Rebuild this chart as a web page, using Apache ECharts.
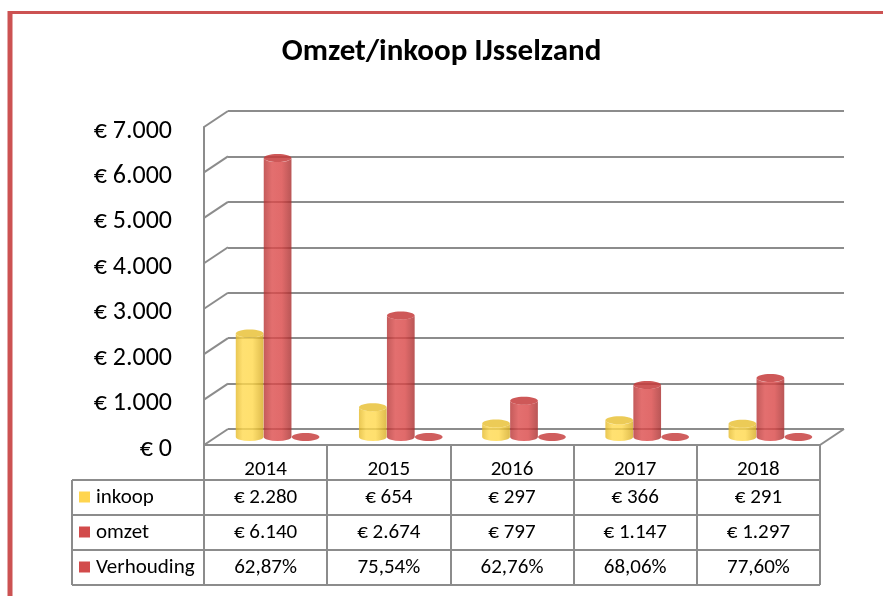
<!DOCTYPE html>
<html>
<head>
<meta charset="utf-8">
<script src="https://cdn.jsdelivr.net/npm/echarts@6/dist/echarts.min.js"></script>
<style>html,body{margin:0;padding:0;background:#fff}#c{width:883px;height:596px}</style>
</head>
<body>
<div id="c"></div>
<script>
// ---- data ----
var title = 'Omzet/inkoop IJsselzand';
var categories = ['2014', '2015', '2016', '2017', '2018'];
var inkoop = [2280, 654, 297, 366, 291];
var omzet = [6140, 2674, 797, 1147, 1297];
var verhouding = [62.87, 75.54, 62.76, 68.06, 77.60]; // percent
var seriesNames = ['inkoop', 'omzet', 'Verhouding'];
var yTicks = [0, 1000, 2000, 3000, 4000, 5000, 6000, 7000];

// ---- style / layout ----
var FONT = 'Carlito, Calibri, Lato, sans-serif';
var GRAY = '#8c8c8c';
var DX = 24, DY = 16; // depth offset (back = front + (DX, -DY))
var FRONT = {left: 204, right: 63, top: 127, bottom: 151};
var BACK = {left: 228, right: 39, top: 111, bottom: 167};
var LABEL_SHIFT = 4;
var ROW_H = 35;
var TABLE_LEFT = 72;
var TFONT = 21;
var YEL = '#ffd54f', RED = '#d24b4b';

function thousands(v) {
  var s = String(Math.round(v));
  return s.replace(/\B(?=(\d{3})+(?!\d))/g, '.');
}
function euro(v) { return '\u20ac ' + thousands(v); }
function pct(v) { return v.toFixed(2).replace('.', ',') + '%'; }

var styles = [
  {stops: [[0, '#e4b928'], [0.25, '#ffd94e'], [0.6, '#ffd84a'], [1, '#d6ab20']], top: '#e9c23a'},
  {stops: [[0, '#b53232'], [0.3, '#dc4b4b'], [0.65, '#d94545'], [1, '#a82c2c']], top: '#c53b3b'},
  {stops: [[0, '#b53232'], [0.3, '#dc4b4b'], [0.65, '#d94545'], [1, '#a82c2c']], top: '#c84242'}
];

function cylinder(k) {
  return function (params, api) {
    var idx = api.value(0), val = api.value(1);
    var top = api.coord([idx, val]);
    var base = api.coord([idx, 0]);
    var band = api.size([1, 0])[0];
    var w = band * 0.225, rx = w / 2, ry = 4;
    var cx = top[0] - DX / 2 + (k - 1) * band * 0.227;
    var ty = top[1] + DY / 2, by = base[1] + DY / 2;
    var L = cx - rx, R = cx + rx;
    var st = styles[k];
    var grad = new echarts.graphic.LinearGradient(0, 0, 1, 0,
      st.stops.map(function (s) { return {offset: s[0], color: s[1]}; }));
    var children = [];
    if (by - ty > 0.5) {
      children.push({
        type: 'path',
        shape: {pathData: 'M' + L + ' ' + ty + ' A' + rx + ' ' + ry + ' 0 0 0 ' + R + ' ' + ty +
          ' L' + R + ' ' + by + ' A' + rx + ' ' + ry + ' 0 0 1 ' + L + ' ' + by + ' Z'},
        style: {fill: grad, opacity: 0.8}
      });
    }
    children.push({
      type: 'ellipse',
      shape: {cx: cx, cy: ty, rx: rx, ry: ry},
      style: {fill: st.top, opacity: 0.85}
    });
    return {type: 'group', children: children};
  };
}

function mkData(arr) { return arr.map(function (v, i) { return [i, v]; }); }

var chart = echarts.init(document.getElementById('c'), null, {renderer: 'canvas'});

var rowsX = [
  {offset: 0, margin: 14, fmt: function (v, i) { return categories[i]; }},
  {offset: ROW_H, margin: 7, fmt: function (v, i) { return euro(inkoop[i]); }},
  {offset: ROW_H * 2, margin: 7, fmt: function (v, i) { return euro(omzet[i]); }},
  {offset: ROW_H * 3, margin: 7, fmt: function (v, i) { return pct(verhouding[i]); }}
];

var xAxes = rowsX.map(function (r, n) {
  return {
    type: 'category', gridIndex: 0, data: categories, position: 'bottom', offset: r.offset,
    axisLine: {show: n === 0, lineStyle: {color: GRAY, width: 2}},
    axisTick: {show: n === 0, interval: 0, length: ROW_H * 4, lineStyle: {color: GRAY, width: 2}},
    axisLabel: {margin: r.margin, interval: 0, fontSize: TFONT, color: '#000', fontFamily: FONT, formatter: r.fmt},
    splitLine: {show: false}
  };
});
xAxes.push({type: 'category', gridIndex: 1, data: categories, show: false});
xAxes.push({type: 'category', gridIndex: 2, data: categories, show: false});

// table graphics (legend column + horizontal rules)
var graphics = [
  // red chart-area border
  {type: 'line', shape: {x1: 8, y1: 12.5, x2: 883, y2: 12.5}, style: {stroke: '#cc5252', lineWidth: 3}},
  {type: 'line', shape: {x1: 10, y1: 11, x2: 10, y2: 596}, style: {stroke: '#cc5252', lineWidth: 5}}
];
var tableTop = 596 - FRONT.bottom;
var tableRight = 883 - FRONT.right;
for (var r = 1; r <= 4; r++) {
  var yy = tableTop + ROW_H * r;
  graphics.push({type: 'line', shape: {x1: TABLE_LEFT, y1: yy, x2: tableRight, y2: yy}, style: {stroke: GRAY, lineWidth: 2}});
}
graphics.push({type: 'line', shape: {x1: TABLE_LEFT, y1: tableTop + ROW_H, x2: TABLE_LEFT, y2: tableTop + ROW_H * 4}, style: {stroke: GRAY, lineWidth: 2}});
var keyColors = [YEL, RED, RED];
seriesNames.forEach(function (nm, i) {
  var cy = tableTop + ROW_H * (i + 1) + 17.5;
  graphics.push({type: 'rect', shape: {x: 79, y: cy - 6, width: 11, height: 11}, style: {fill: keyColors[i]}});
  graphics.push({type: 'text', x: 96, y: cy, style: {text: nm, fontSize: TFONT, fontFamily: FONT, fill: '#000', verticalAlign: 'middle', align: 'left'}});
});

var option = {
  animation: false,
  title: {text: title, left: 'center', top: 32, textStyle: {fontSize: 31, fontWeight: 'bold', fontFamily: FONT, color: '#000'}},
  grid: [
    {left: FRONT.left, right: FRONT.right, top: FRONT.top, bottom: FRONT.bottom},
    {left: BACK.left, right: BACK.right, top: BACK.top, bottom: BACK.bottom},
    {left: FRONT.left, right: FRONT.right, top: FRONT.top + LABEL_SHIFT, bottom: FRONT.bottom - LABEL_SHIFT}
  ],
  xAxis: xAxes,
  yAxis: [
    {type: 'value', gridIndex: 0, min: 0, max: 7000, interval: 1000,
      axisLine: {show: true, lineStyle: {color: GRAY, width: 2}}, axisTick: {show: false},
      splitLine: {show: false}, axisLabel: {show: false}},
    {type: 'value', gridIndex: 1, min: 0, max: 7000, interval: 1000,
      axisLine: {show: false}, axisTick: {show: false}, axisLabel: {show: false},
      splitLine: {show: true, lineStyle: {color: GRAY, width: 2}}},
    {type: 'value', gridIndex: 2, min: 0, max: 7000, interval: 1000,
      axisLine: {show: false}, axisTick: {show: false}, splitLine: {show: false},
      axisLabel: {margin: 32, fontSize: 26, color: '#000', fontFamily: FONT,
        formatter: function (v) { return euro(v); }}}
  ],
  graphic: graphics,
  series: [
    {type: 'custom', name: 'walls', xAxisIndex: 4, yAxisIndex: 1, silent: true, clip: false, z: 1,
      data: yTicks.map(function (v) { return [0, v]; }),
      renderItem: function (params, api) {
        var cs = params.coordSys;
        var p = api.coord([0, api.value(1)]);
        var ch = [{type: 'line', shape: {x1: cs.x - DX, y1: p[1] + DY, x2: cs.x, y2: p[1]}, style: {stroke: GRAY, lineWidth: 2}}];
        if (api.value(1) === 0) {
          ch.push({type: 'line', shape: {x1: cs.x + cs.width - DX, y1: p[1] + DY, x2: cs.x + cs.width, y2: p[1]}, style: {stroke: GRAY, lineWidth: 2}});
        }
        return {type: 'group', children: ch};
      }},
    {type: 'custom', name: seriesNames[0], xAxisIndex: 4, yAxisIndex: 1, clip: false, z: 3, data: mkData(inkoop), renderItem: cylinder(0)},
    {type: 'custom', name: seriesNames[1], xAxisIndex: 4, yAxisIndex: 1, clip: false, z: 3, data: mkData(omzet), renderItem: cylinder(1)},
    {type: 'custom', name: seriesNames[2], xAxisIndex: 4, yAxisIndex: 1, clip: false, z: 3,
      data: mkData(verhouding.map(function (v) { return v / 100; })), renderItem: cylinder(2)}
  ]
};
chart.setOption(option);
</script>
</body>
</html>
